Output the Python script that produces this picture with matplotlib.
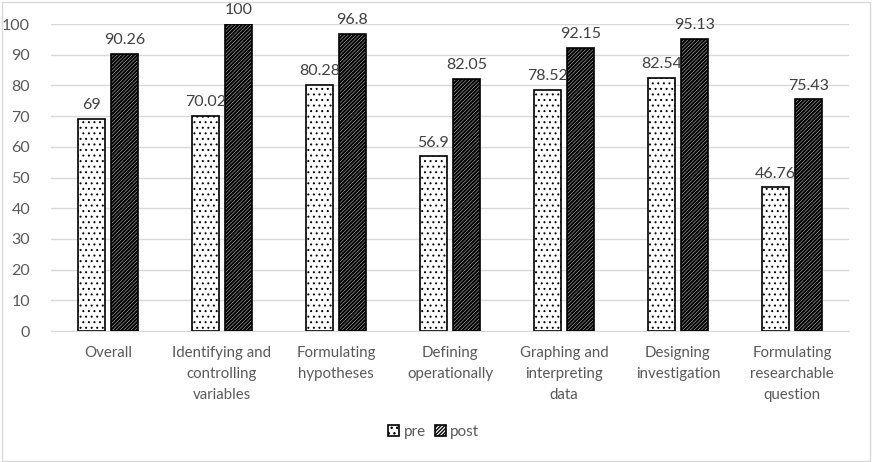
import matplotlib
matplotlib.use("Agg")
import matplotlib.pyplot as plt
import numpy as np
from matplotlib.patches import Rectangle

categories = ["Overall", "Identifying and\ncontrolling\nvariables", "Formulating\nhypotheses",
              "Defining\noperationally", "Graphing and\ninterpreting\ndata", "Designing\ninvestigation",
              "Formulating\nresearchable\nquestion"]
pre = [69, 70.02, 80.28, 56.9, 78.52, 82.54, 46.76]
post = [90.26, 100, 96.8, 82.05, 92.15, 95.13, 75.43]
pre_labels = ["69", "70.02", "80.28", "56.9", "78.52", "82.54", "46.76"]
post_labels = ["90.26", "100", "96.8", "82.05", "92.15", "95.13", "75.43"]

plt.rcParams['font.family'] = ['Lato', 'DejaVu Sans']
txt = "#595959"

fig = plt.figure(figsize=(8.73, 4.62), dpi=100)
ax = fig.add_axes([0.0584, 0.2835, 0.914, 0.6645])
x = np.arange(len(categories))
w = 0.24
off = 0.145
with plt.rc_context({'hatch.linewidth': 0.7}):
    b1 = ax.bar(x - off, pre, w, color="white", edgecolor="black", hatch="...", linewidth=1.2, label="pre", zorder=3)
with plt.rc_context({'hatch.linewidth': 1.6}):
    b2 = ax.bar(x + off, post, w, color="white", edgecolor="black", hatch="/////////", linewidth=1.2, label="post", zorder=3)
for bars, lw in ((b1, 0.7), (b2, 1.6)):
    for p in bars:
        if hasattr(p, "set_hatch_linewidth"):
            p.set_hatch_linewidth(lw)

for xi, v, s in zip(x - off, pre, pre_labels):
    ax.text(xi, v + 2.2, s, ha="center", va="bottom", fontsize=11.5, color="#404040")
for xi, v, s in zip(x + off, post, post_labels):
    ax.text(xi, v + 2.2, s, ha="center", va="bottom", fontsize=11.5, color="#404040")

ax.set_xlim(-0.5, len(categories) - 0.5)
ax.set_ylim(0, 100)
ax.set_yticks(range(0, 101, 10))
ax.yaxis.grid(True, color="#d9d9d9", linewidth=1, zorder=0)
ax.set_xticks(x)
ax.set_xticklabels(categories, fontsize=10.8, color=txt, linespacing=1.6)
ax.tick_params(axis="y", labelsize=11.5, labelcolor=txt, length=0, pad=15)
ax.tick_params(axis="x", length=0, pad=11)
for s in ["top", "right", "left"]:
    ax.spines[s].set_visible(False)
ax.spines["bottom"].set_color("#d9d9d9")

leg = fig.legend(handles=[b1, b2], labels=["pre", "post"], loc="center", bbox_to_anchor=(0.497, 0.065),
                 ncol=2, frameon=False, fontsize=11, handlelength=0.7, handleheight=0.7,
                 handletextpad=0.3, columnspacing=0.6)
for t in leg.get_texts():
    t.set_color(txt)

fig.patches.append(Rectangle((0.002, 0.003), 0.995, 0.993, transform=fig.transFigure,
                             fill=False, edgecolor="#d9d9d9", linewidth=1))
fig.savefig("out.png", dpi=100)
